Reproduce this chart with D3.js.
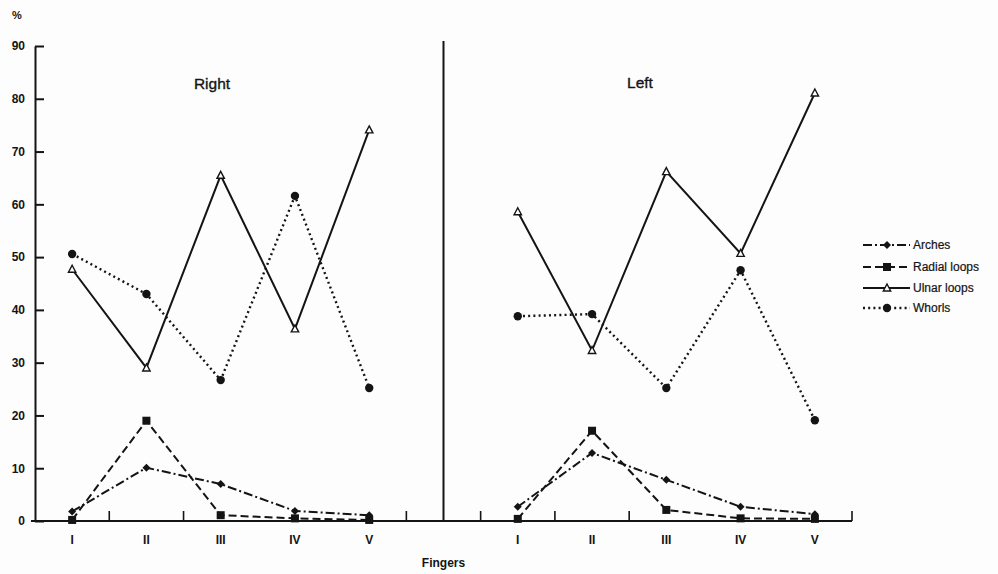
<!DOCTYPE html>
<html>
<head>
<meta charset="utf-8">
<script src="https://cdn.jsdelivr.net/npm/d3@7"></script>
<style>
  html, body { margin: 0; padding: 0; background: #fdfdfd; }
  svg { display: block; font-family: "Liberation Sans", Arial, sans-serif; }
</style>
</head>
<body>
<svg id="chart" width="998" height="574"></svg>
<script>
// Finger positions along the category axis; the blank slot separates the hands
const fingers = ["I", "II", "III", "IV", "V"];
const axisSlots = ["I", "II", "III", "IV", "V", "", "I", "II", "III", "IV", "V"];
const hands = ["Right", "Left"];
const yTicks = [0, 10, 20, 30, 40, 50, 60, 70, 80, 90];
const seriesNames = ["Arches", "Radial loops", "Ulnar loops", "Whorls"];

// Frequencies (%) per finger, right hand
const rightArches = [1.8, 10.1, 7.0, 1.9, 1.1];
const rightRadial = [0.2, 19.0, 1.1, 0.5, 0.2];
const rightUlnar  = [47.7, 29.0, 65.5, 36.4, 74.1];
const rightWhorls = [50.6, 43.0, 26.7, 61.6, 25.2];

// Frequencies (%) per finger, left hand
const leftArches = [2.7, 12.9, 7.8, 2.7, 1.3];
const leftRadial = [0.4, 17.1, 2.1, 0.5, 0.4];
const leftUlnar  = [58.6, 32.3, 66.2, 50.7, 81.1];
const leftWhorls = [38.8, 39.2, 25.2, 47.5, 19.1];

// Slot boundaries carrying a small upward tick on the category axis
const tickBoundaries = [1, 2, 5, 6, 7, 8, 11];

const svg = d3.select("#chart");
const ink = "#141414";

const x = d3.scaleBand().domain(d3.range(axisSlots.length)).range([35, 852]);
const y = d3.scaleLinear().domain([0, 90]).range([521, 46]);

const styles = {
  "Arches":       { dash: "9,3,2,3", marker: "diamond" },
  "Radial loops": { dash: "8,4",     marker: "square" },
  "Ulnar loops":  { dash: null,      marker: "triangle" },
  "Whorls":       { dash: "2,3.2",   marker: "circle" }
};

const handData = [
  { hand: "Right", offset: 0, series: [rightArches, rightRadial, rightUlnar, rightWhorls] },
  { hand: "Left",  offset: 6, series: [leftArches, leftRadial, leftUlnar, leftWhorls] }
];

function drawMarker(g, type, cx, cy) {
  if (type === "diamond") {
    g.append("path").attr("d", `M${cx},${cy - 4}L${cx + 4},${cy}L${cx},${cy + 4}L${cx - 4},${cy}Z`)
      .attr("fill", ink);
  } else if (type === "square") {
    g.append("rect").attr("x", cx - 4).attr("y", cy - 4).attr("width", 8).attr("height", 8)
      .attr("fill", ink);
  } else if (type === "triangle") {
    g.append("path").attr("d", `M${cx},${cy - 4}L${cx + 3.7},${cy + 3}L${cx - 3.7},${cy + 3}Z`)
      .attr("fill", "#fdfdfd").attr("stroke", ink).attr("stroke-width", 1.4);
  } else {
    g.append("circle").attr("cx", cx).attr("cy", cy).attr("r", 4.2).attr("fill", ink);
  }
}

// Y axis with inward ticks
const yAxis = d3.axisLeft(y).tickValues(yTicks).tickSizeInner(-9).tickSizeOuter(0).tickPadding(10);
const yg = svg.append("g").attr("transform", "translate(35,0)").call(yAxis);
yg.select(".domain").attr("stroke", ink).attr("stroke-width", 2);
yg.selectAll(".tick line").attr("stroke", ink).attr("stroke-width", 2);
yg.selectAll(".tick text").attr("fill", ink).attr("font-size", 12).attr("font-weight", "bold");

// Category axis: baseline, boundary ticks and finger labels
svg.append("line").attr("x1", 31).attr("x2", x.range()[1]).attr("y1", y(0)).attr("y2", y(0))
  .attr("stroke", ink).attr("stroke-width", 2);
svg.append("g").selectAll("line").data(tickBoundaries).join("line")
  .attr("x1", d => x.range()[0] + d * x.step()).attr("x2", d => x.range()[0] + d * x.step())
  .attr("y1", y(0)).attr("y2", y(0) - 10)
  .attr("stroke", ink).attr("stroke-width", 1.6);
const xAxis = d3.axisBottom(x).tickSize(0).tickPadding(14).tickFormat(i => axisSlots[i]);
const xg = svg.append("g").attr("transform", `translate(0,${y(0)})`).call(xAxis);
xg.select(".domain").remove();
xg.selectAll(".tick text").attr("fill", ink).attr("font-size", 12).attr("font-weight", "bold");

// Divider between right and left hand
svg.append("line")
  .attr("x1", x(5) + x.bandwidth() / 2).attr("x2", x(5) + x.bandwidth() / 2)
  .attr("y1", 41).attr("y2", y(0))
  .attr("stroke", ink).attr("stroke-width", 2);

// Axis titles and panel titles
svg.append("text").attr("x", 17).attr("y", 19).attr("text-anchor", "middle")
  .attr("font-size", 11).attr("font-weight", "bold").attr("fill", ink).text("%");
svg.append("text").attr("x", x(5) + x.bandwidth() / 2).attr("y", 567).attr("text-anchor", "middle")
  .attr("font-size", 12).attr("font-weight", "bold").attr("fill", ink).text("Fingers");
svg.append("text").attr("x", 212).attr("y", 89).attr("text-anchor", "middle")
  .attr("font-size", 15.5).attr("fill", ink).attr("stroke", ink).attr("stroke-width", 0.35).text(hands[0]);
svg.append("text").attr("x", 640).attr("y", 88).attr("text-anchor", "middle")
  .attr("font-size", 15.5).attr("fill", ink).attr("stroke", ink).attr("stroke-width", 0.35).text(hands[1]);

// Series lines and markers
const line = d3.line().x(d => d[0]).y(d => d[1]);
handData.forEach(h => {
  h.series.forEach((vals, si) => {
    const st = styles[seriesNames[si]];
    const pts = vals.map((v, i) => [x(h.offset + i) + x.bandwidth() / 2, y(v)]);
    svg.append("path").attr("d", line(pts)).attr("fill", "none")
      .attr("stroke", ink).attr("stroke-width", st.marker === "circle" ? 2.4 : 2)
      .attr("stroke-dasharray", st.dash);
  });
});
handData.forEach(h => {
  h.series.forEach((vals, si) => {
    const st = styles[seriesNames[si]];
    const g = svg.append("g");
    vals.forEach((v, i) => drawMarker(g, st.marker, x(h.offset + i) + x.bandwidth() / 2, y(v)));
  });
});

// Legend
const legend = svg.append("g");
const legendY = [245, 267, 288, 308];
seriesNames.forEach((name, i) => {
  const st = styles[name];
  const ly = legendY[i];
  legend.append("line").attr("x1", 863).attr("x2", 910).attr("y1", ly).attr("y2", ly)
    .attr("stroke", ink).attr("stroke-width", st.marker === "circle" ? 2.4 : 2)
    .attr("stroke-dasharray", st.dash);
  drawMarker(legend, st.marker, 887, ly);
  legend.append("text").attr("x", 913).attr("y", ly + 4).attr("font-size", 12)
    .attr("fill", ink).attr("stroke", ink).attr("stroke-width", 0.2).text(name);
});
</script>
</body>
</html>
